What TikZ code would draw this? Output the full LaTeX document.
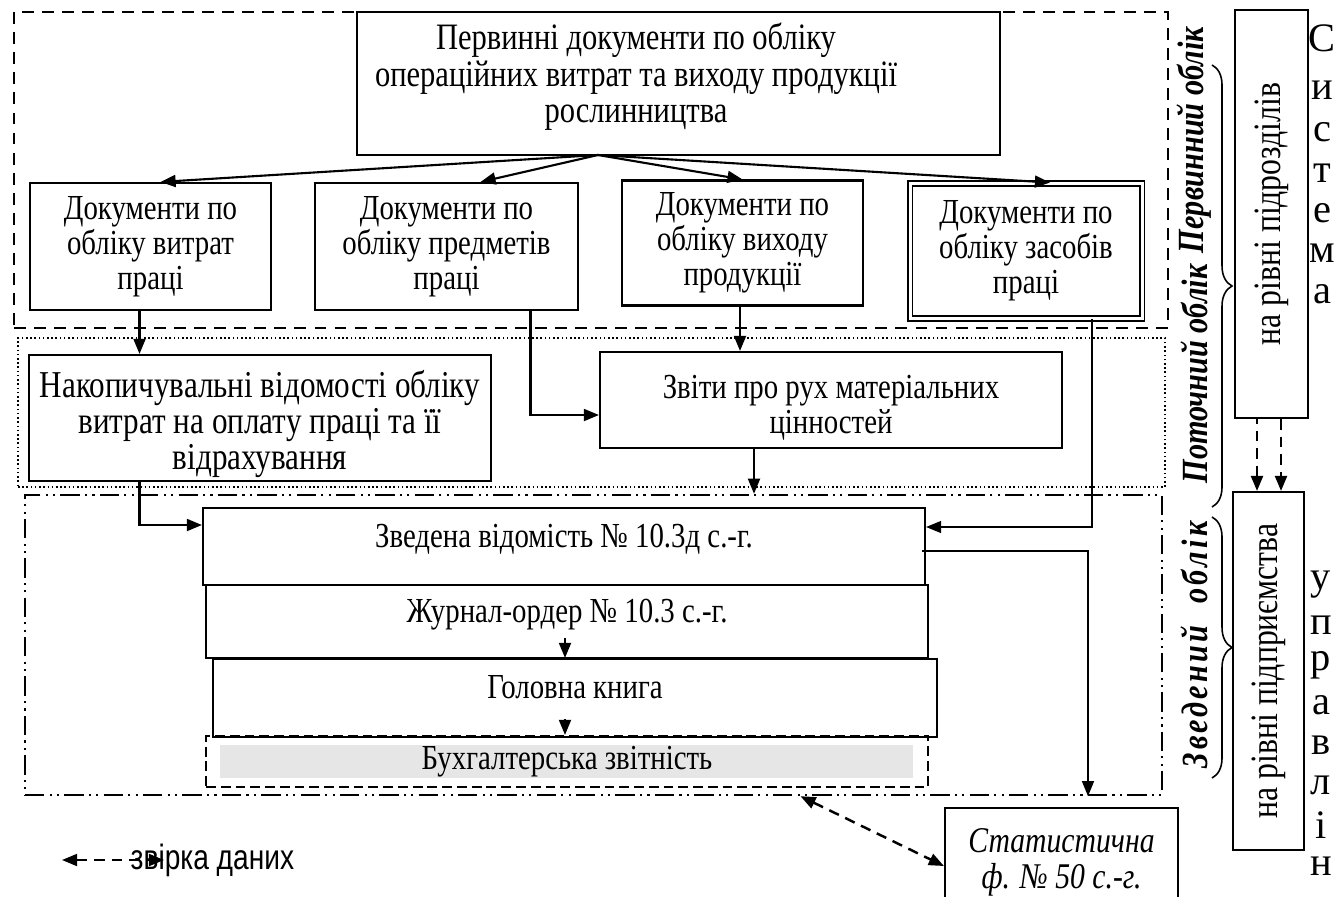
\documentclass[tikz,border=0pt]{standalone}
\usepackage{fontspec}
\setmainfont[FakeStretch=0.82]{Liberation Serif}
\newfontfamily\plainserif{Liberation Serif}
\newfontfamily\lsans[FakeStretch=0.8]{Liberation Sans}
\usetikzlibrary{arrows.meta,calc,decorations.pathreplacing}
\definecolor{fillgray}{HTML}{E6E6E6}
\begin{document}
\begin{tikzpicture}[x=0.1mm,y=-0.1mm,
  box/.style={draw, line width=0.6pt, align=center, inner sep=0pt, font=\fontsize{10}{10}\selectfont},
  txt/.style={align=center, inner sep=0pt},
  dbox/.style={box, double, line width=0.55pt, double distance=0.85pt},
  arr/.style={line width=0.6pt, -{Triangle[length=4.3pt,width=3.4pt]}},
  thinarr/.style={line width=0.45pt, -{Triangle[length=4.3pt,width=3.4pt]}},
  dasharr/.style={line width=0.7pt, dash pattern=on 3pt off 2pt, {Triangle[length=4.3pt,width=3.4pt]}-{Triangle[length=4.3pt,width=3.4pt]}},
  frameA/.style={draw, line width=0.7pt, dash pattern=on 3.4pt off 2.3pt, inner sep=0pt},
  frameB/.style={draw, line width=0.45pt, dash pattern=on 0.45pt off 0.75pt, inner sep=0pt},
  frameC/.style={draw, line width=0.7pt, dash pattern=on 5.5pt off 1.5pt on 0.6pt off 1.5pt on 0.6pt off 1.5pt, inner sep=0pt},
  vlab/.style={rotate=90, inner sep=0pt, font=\bfseries\itshape\fontsize{10.5}{10.5}\selectfont},
  letter/.style={font=\plainserif\fontsize{11.5}{11.5}\selectfont, inner sep=0pt},
  brc/.style={decorate, decoration={brace, amplitude=5.7pt}, line width=0.45pt}
]
\clip (0,0) rectangle (1344,897);
\fill[white] (0,0) rectangle (1344,897);

% frames
\node[frameA, minimum width=115.4mm, minimum height=31.6mm] (F1) at (591,170) {};
\node[frameB, minimum width=114.7mm, minimum height=14.9mm] (F2) at (591.5,412.5) {};
\node[frameC, minimum width=113.7mm, minimum height=30.0mm] (F3) at (593.5,645) {};

% top
\node[box, minimum width=64.3mm, minimum height=14.3mm] (T) at (678.5,83.5) {};
\node[txt, font=\fontsize{10.6}{10.4}\selectfont] (Ttext) at (636,77)
  {Первинні документи по обліку\\операційних витрат та виходу продукції\\рослинництва};
\coordinate (tsrc) at (598,155);

\node[box, minimum width=24.1mm, minimum height=12.7mm] (B1) at (150.5,246.5) {Документи по\\обліку витрат\\праці};
\node[box, minimum width=26.3mm, minimum height=12.7mm] (B2) at (446.5,246.5) {Документи по\\обліку предметів\\праці};
\node[box, minimum width=24.1mm, minimum height=12.5mm] (B3) at (742.5,243) {Документи по\\обліку виходу\\продукції};
\node[dbox, minimum width=23.2mm, minimum height=13.5mm] (B4) at (1026,251) {Документи по\\обліку засобів\\праці};

\node[box, minimum width=46.2mm, minimum height=12.6mm] (N1) at (260,418) {};
\node[txt, font=\fontsize{10.8}{10.2}\selectfont] (N1text) at (260,424)
  {Накопичувальні відомості обліку\\витрат на оплату праці та її\\відрахування};
\node[box, minimum width=46.2mm, minimum height=9.6mm] (N2) at (831,400) {};
\node[txt, font=\fontsize{10}{10}\selectfont] (N2text) at (831,408)
  {Звіти про рух матеріальних\\цінностей};

\node[box, minimum width=72.2mm, minimum height=7.7mm, text depth=2.2mm] (Z1) at (564,546.5) {Зведена відомість № 10.3д с.-г.};
\node[box, minimum width=72.2mm, minimum height=7.3mm, text depth=2.2mm] (Z2) at (567,621.5) {Журнал-ордер № 10.3 с.-г.};
\node[box, minimum width=72.4mm, minimum height=7.8mm, text depth=2.2mm] (Z3) at (575,698) {Головна книга};
\fill[fillgray] (220,745) rectangle (913,778);
\node[box, dash pattern=on 2.8pt off 1.4pt, minimum width=72.2mm, minimum height=5.1mm] (Z4) at (567,761.5) {Бухгалтерська звітність};

\node[box, font=\itshape\fontsize{10.3}{10.3}\selectfont, minimum width=23.3mm, minimum height=10.8mm] (S) at (1061.5,862) {Статистична\\ф. № 50 с.-г.};

% right boxes
\node[box, minimum width=7.3mm, minimum height=40.8mm] (R1) at (1271.5,214) {};
\node[rotate=90, font=\fontsize{11}{11}\selectfont] (R1text) at (R1) {на рівні підрозділів};
\node[box, minimum width=7.1mm, minimum height=35.8mm] (R2) at (1268.5,671) {};
\node[rotate=90, font=\fontsize{11}{11}\selectfont] (R2text) at (R2) {на рівні підприємства};

% labels
\node[vlab] (L1) at (1194,140) {Первинний облік};
\node[vlab] (L2) at (1194,374) {Поточний облік};
\node[vlab] (L3) at (1194,645) {\addfontfeature{LetterSpace=9}Зведений \ облік};

\coordinate (b1a) at (1212,65);
\coordinate (b1b) at (1212,507);
\coordinate (b2a) at (1212,517);
\coordinate (b2b) at (1212,778);
\draw[brc] (b1a) -- (b1b);
\draw[brc] (b2a) -- (b2b);

\foreach \ch/\yy [count=\i] in {С/38,и/90,с/132,т/173,е/213,м/253,а/294}
  \node[letter] (s\i) at (1322,\yy) {\ch};
\foreach \ch/\yy [count=\i] in {у/585,п/625,р/665,а/705,в/745,л/785,і/825,н/866}
  \node[letter] (u\i) at (1321,\yy) {\ch};

% connectors
\draw[arr] (tsrc) -- ($(B1.north)+(10,0)$);
\draw[arr] (tsrc) -- ($(B2.north)+(34,0)$);
\draw[arr] (tsrc) -- (B3.north);
\draw[arr] (tsrc) -- ($(B4.north)+(24,0)$);

\coordinate (b1out) at ($(B1.south)+(-11,0)$);
\draw[arr] (b1out) -- (N1.north -| b1out);
\draw[arr] ($(B2.south)+(84,0)$) |- ($(N2.west)+(0,15)$);
\coordinate (b3out) at ($(B3.south)+(-2.5,0)$);
\draw[arr] (b3out) -- (N2.north -| b3out);
\coordinate (n2out) at ($(N2.south)+(-77,0)$);
\draw[arr] (n2out) -- (F3.north -| n2out);

\draw[arr] (N1.south -| b1out) |- ($(Z1.west)+(0,-21.5)$);
\draw[thinarr] ($(B4.south)+(66,0)$) |- ($(Z1.east)+(0,-19.5)$);
\coordinate (sin) at ($(S.north)+(26.5,0)$);
\draw[thinarr] ($(Z1.east)+(-4,4.5)$) -| (F3.south -| sin);

\coordinate (z2out) at ($(Z2.south)+(-2,-21)$);
\draw[arr] (z2out) -- (Z3.north -| z2out);
\coordinate (z3out) at ($(Z3.south)+(-10,-19)$);
\draw[arr] (z3out) -- (Z4.north -| z3out);

\draw[dasharr] ($(F3.south)+(207,0)$) -- ($(S.west)+(0,4)$);

\coordinate (rl) at ($(R2.north)+(-11.5,0)$);
\coordinate (rr) at ($(R1.south)+(9.5,0)$);
\draw[dasharr, {Triangle[length=4.3pt,width=3.4pt]}-] (rl) -- (R1.south -| rl);
\draw[dasharr, -{Triangle[length=4.3pt,width=3.4pt]}] (rr) -- (R2.north -| rr);

% legend
\node[anchor=west, inner sep=0pt, font=\lsans\fontsize{10}{10}\selectfont] (lgt) at (130,860) {звірка даних};
\coordinate (lg1) at (62,860);
\draw[dasharr, line width=0.6pt] (lg1) -- ($(lgt.west)+(34,0)$);
\end{tikzpicture}
\end{document}
